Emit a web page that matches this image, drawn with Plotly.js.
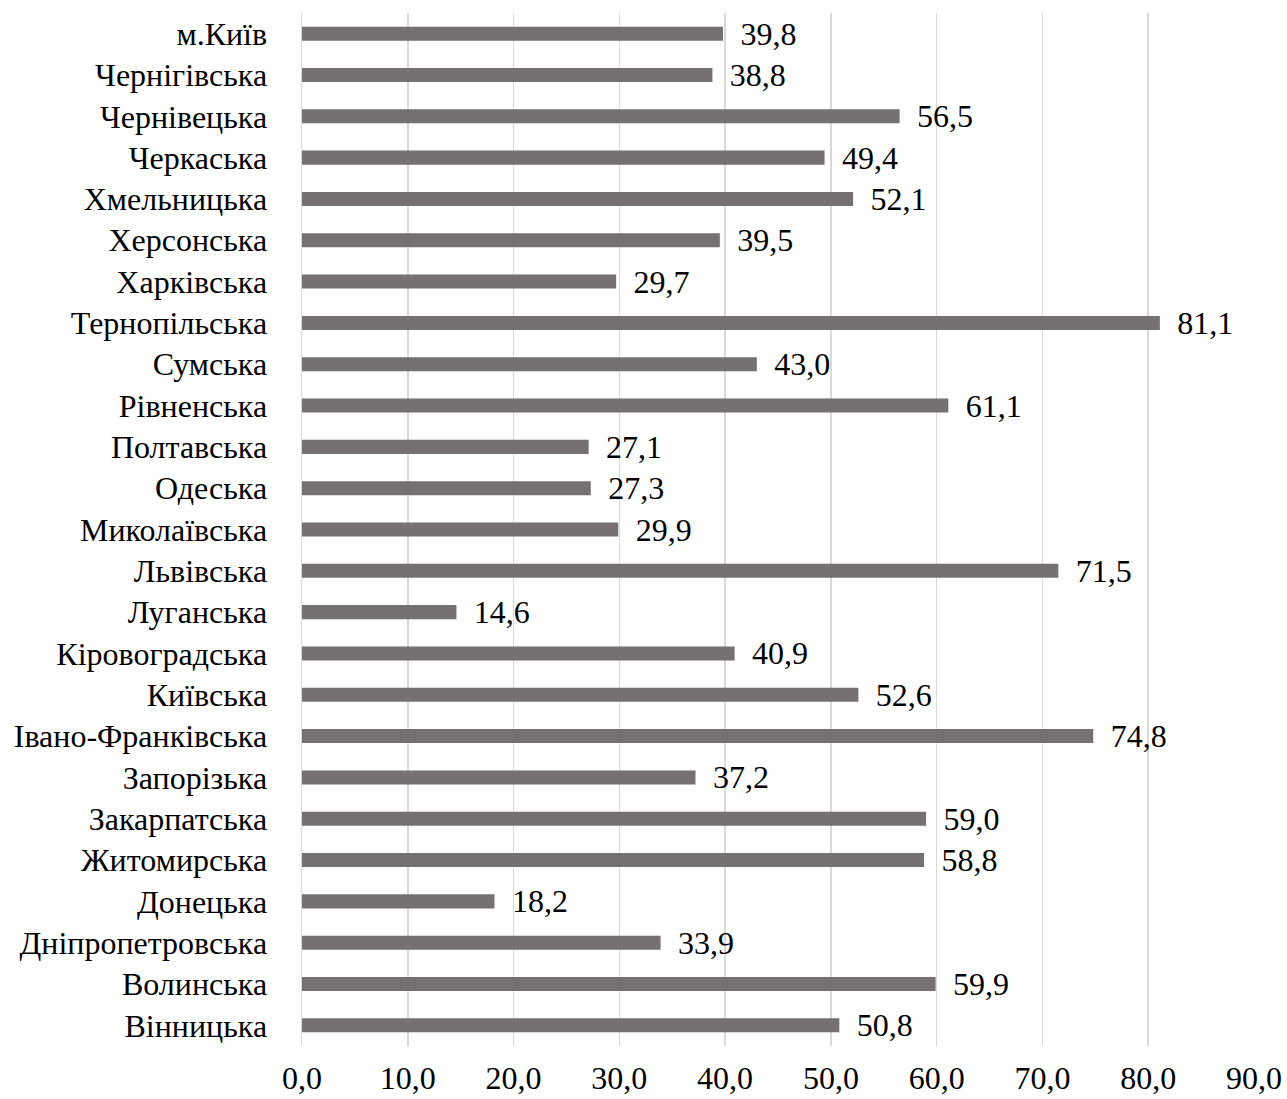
<!DOCTYPE html>
<html>
<head>
<meta charset="utf-8">
<script src="https://cdn.plot.ly/plotly-3.0.1.min.js"></script>
<style>html,body{margin:0;padding:0;background:#fff;}#chart{width:1287px;height:1099px;}</style>
</head>
<body>
<div id="chart"></div>
<script>
const regions = ["м.Київ","Чернігівська","Чернівецька","Черкаська","Хмельницька","Херсонська","Харківська","Тернопільська","Сумська","Рівненська","Полтавська","Одеська","Миколаївська","Львівська","Луганська","Кіровоградська","Київська","Івано-Франківська","Запорізька","Закарпатська","Житомирська","Донецька","Дніпропетровська","Волинська","Вінницька"];
const values = [39.8,38.8,56.5,49.4,52.1,39.5,29.7,81.1,43.0,61.1,27.1,27.3,29.9,71.5,14.6,40.9,52.6,74.8,37.2,59.0,58.8,18.2,33.9,59.9,50.8];
const xTicks = [0,10,20,30,40,50,60,70,80,90];

const fontFam = '"Liberation Serif", "Times New Roman", serif';
const fs = 32;
Plotly.newPlot('chart', [{
  type: 'bar',
  orientation: 'h',
  y: regions,
  x: values,
  marker: {color: '#767171'},
  texttemplate: '\u00A0\u2009%{x:.1f}',
  textposition: 'outside',
  constraintext: 'none',
  cliponaxis: false,
  textfont: {family: fontFam, size: fs, color: '#000'},
  hoverinfo: 'none'
}], {
  width: 1287, height: 1099,
  margin: {l: 302, r: 33, t: 13, b: 53},
  paper_bgcolor: '#fff', plot_bgcolor: '#fff',
  separators: ', ',
  bargap: 0.66,
  showlegend: false,
  font: {family: fontFam, size: fs, color: '#000'},
  xaxis: {
    range: [0, 90],
    tickvals: xTicks,
    tickformat: '.1f',
    showgrid: true, gridcolor: '#d9d9d9', gridwidth: 1.5,
    zeroline: false, showline: false, ticks: '',
    ticklabelstandoff: 10,
    tickfont: {family: fontFam, size: fs, color: '#000'}
  },
  yaxis: {
    type: 'category',
    autorange: 'reversed',
    showgrid: false, zeroline: false,
    showline: true, linecolor: '#d9d9d9', linewidth: 1.5,
    ticks: '',
    ticklabelstandoff: 27,
    tickfont: {family: fontFam, size: fs, color: '#000'}
  }
}, {displayModeBar: false, staticPlot: true});
</script>
</body>
</html>
